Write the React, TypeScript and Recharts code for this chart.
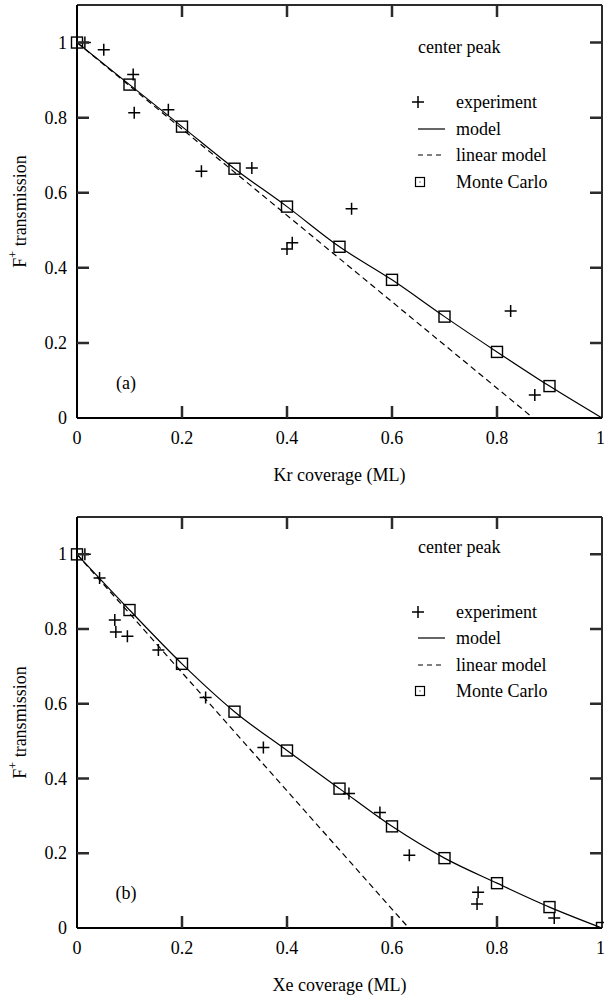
import React from 'react';
import { ScatterChart, Scatter, XAxis, YAxis, Legend, ReferenceLine } from 'recharts';

// coverage grid used by the Monte Carlo points and the model curves
const coverageGrid = [0, 0.1, 0.2, 0.3, 0.4, 0.5, 0.6, 0.7, 0.8, 0.9, 1];
const xTicks = [0, 0.2, 0.4, 0.6, 0.8, 1];
const yTicks = [0, 0.2, 0.4, 0.6, 0.8, 1];
const yMax = 1.1;
const xMax = 1;

// (a) Kr
const krExpX = [0.015, 0.051, 0.107, 0.109, 0.174, 0.237, 0.333, 0.4, 0.41, 0.523, 0.826, 0.872];
const krExpY = [1.0, 0.981, 0.915, 0.813, 0.821, 0.657, 0.666, 0.45, 0.467, 0.557, 0.285, 0.061];
const krMonteCarlo = [1.0, 0.888, 0.776, 0.664, 0.563, 0.456, 0.368, 0.27, 0.176, 0.085];
const krModel = [1.0, 0.888, 0.776, 0.664, 0.563, 0.456, 0.368, 0.27, 0.176, 0.085, 0];
const krLinearX = [0, 0.869];
const krLinearY = [1, 0];

// (b) Xe
const xeExpX = [0.015, 0.043, 0.072, 0.074, 0.096, 0.155, 0.245, 0.355, 0.518, 0.577, 0.633, 0.764, 0.762, 0.909];
const xeExpY = [1.0, 0.937, 0.824, 0.792, 0.781, 0.744, 0.617, 0.483, 0.36, 0.309, 0.195, 0.096, 0.064, 0.027];
const xeMonteCarlo = [1.0, 0.851, 0.707, 0.579, 0.475, 0.373, 0.272, 0.187, 0.12, 0.056, 0.0];
const xeModel = [1.0, 0.851, 0.707, 0.579, 0.475, 0.373, 0.272, 0.187, 0.12, 0.056, 0.0];
const xeLinearX = [0, 0.632];
const xeLinearY = [1, 0];

const FONT = 'Liberation Serif, Times New Roman, Times, DejaVu Serif, serif';
const INK = '#2b2b2b';
const CHART_W = 604;
const RIGHT_MARGIN = 2;
const TICK_LEN = 12;

const zip = (xs: number[], ys: number[]) => ys.map((y, i) => ({ x: xs[i], y }));

const Cross = (props: any) => {
  const { cx, cy } = props;
  return <path d={`M${cx - 6},${cy}H${cx + 6}M${cx},${cy - 6}V${cy + 6}`} stroke="#000" strokeWidth={1.5} fill="none" />;
};

const Square = (props: any) => {
  const { cx, cy } = props;
  return <rect x={cx - 5.5} y={cy - 5.5} width={11} height={11} fill="none" stroke="#000" strokeWidth={1.4} />;
};

const NoDot = () => <g />;

// bottom tick: label below, inward tick marks on bottom and top frame
const makeBottomTick = (plotTop: number) => (props: any) => {
  const { x, y, payload } = props;
  const v = Number(payload.value);
  const inner = v > 0 && v < xMax;
  return (
    <g>
      {inner ? <path d={`M${x},${y}V${y - TICK_LEN}M${x},${plotTop}V${plotTop + TICK_LEN}`} stroke={INK} strokeWidth={2.5} fill="none" /> : null}
      <text
        x={v === xMax ? x + 3 : x}
        y={y + 20}
        textAnchor={v === xMax ? 'end' : 'middle'}
        dominantBaseline="central"
        style={{ fontFamily: FONT, fontSize: 18 }}
        fill="#000"
      >
        {String(payload.value)}
      </text>
    </g>
  );
};

// left tick: label left, inward tick marks on left and right frame
const LeftTick = (props: any) => {
  const { x, y, payload } = props;
  const v = Number(payload.value);
  const plotRight = CHART_W - RIGHT_MARGIN;
  return (
    <g>
      {v > 0 ? <path d={`M${x},${y}H${x + TICK_LEN}M${plotRight},${y}H${plotRight - TICK_LEN}`} stroke={INK} strokeWidth={2.5} fill="none" /> : null}
      <text x={x - 10} y={y} textAnchor="end" dominantBaseline="central" style={{ fontFamily: FONT, fontSize: 18 }} fill="#000">
        {String(payload.value)}
      </text>
    </g>
  );
};

const YLabel = ({ viewBox }: any) => {
  const cx = viewBox.x + 20;
  const cy = viewBox.y + viewBox.height / 2;
  return (
    <text x={cx} y={cy} transform={`rotate(-90 ${cx} ${cy})`} textAnchor="middle" dominantBaseline="central" style={{ fontFamily: FONT, fontSize: 18 }} fill="#000">
      <tspan>F</tspan>
      <tspan fontSize={12} dy={-7}>+</tspan>
      <tspan dy={7}> transmission</tspan>
    </text>
  );
};

const makeXLabel = (text: string) => ({ viewBox }: any) => (
  <text x={viewBox.x + viewBox.width / 2} y={viewBox.y + 57} textAnchor="middle" dominantBaseline="central" style={{ fontFamily: FONT, fontSize: 18 }} fill="#000">
    {text}
  </text>
);

interface LegendPos {
  peakY: number;
  rowsY: number;
  gap: number;
  tagY: number;
}

const PanelLegend = ({ tag, pos }: { tag: string; pos: LegendPos }) => {
  const rows = ['experiment', 'model', 'linear model', 'Monte Carlo'];
  const marker = (i: number) => {
    if (i === 0) return <path d="M4,11H16M10,5V17" stroke="#000" strokeWidth={1.5} />;
    if (i === 1) return <path d="M10,11H37" stroke="#000" strokeWidth={1.2} />;
    if (i === 2) return <path d="M10,11H37" stroke="#000" strokeWidth={1.2} strokeDasharray="5 4" />;
    return (
      <g>
        <rect x={7.5} y={6.5} width={9} height={9} fill="none" stroke="#000" strokeWidth={1.2} />
        <rect x={11.5} y={10.5} width={1} height={1} fill="#000" />
      </g>
    );
  };
  return (
    <div style={{ position: 'relative', width: CHART_W, height: 500, fontFamily: FONT, fontSize: 18, color: '#000' }}>
      <div style={{ position: 'absolute', left: 418, top: pos.peakY - 11, lineHeight: '22px', whiteSpace: 'nowrap' }}>center peak</div>
      {rows.map((r, i) => (
        <div key={r} style={{ position: 'absolute', left: 408, top: pos.rowsY + i * pos.gap - 11, height: 22 }}>
          <svg width={40} height={22} style={{ position: 'absolute', left: 0, top: 0 }}>
            {marker(i)}
          </svg>
          <div style={{ position: 'absolute', left: 48, top: 0, lineHeight: '22px', whiteSpace: 'nowrap' }}>{r}</div>
        </div>
      ))}
      <div style={{ position: 'absolute', left: 126, top: pos.tagY, transform: 'translate(-50%, -50%)', lineHeight: '22px' }}>{tag}</div>
    </div>
  );
};

interface PanelProps {
  height: number;
  top: number;
  bottom: number;
  expX: number[];
  expY: number[];
  mc: number[];
  model: number[];
  linX: number[];
  linY: number[];
  xLabel: string;
  tag: string;
  legend: LegendPos;
}

const Panel = ({ height, top, bottom, expX, expY, mc, model, linX, linY, xLabel, tag, legend }: PanelProps) => (
  <ScatterChart width={CHART_W} height={height} margin={{ top, right: RIGHT_MARGIN, left: 0, bottom: 0 }}>
    <XAxis
      type="number"
      dataKey="x"
      domain={[0, xMax]}
      ticks={xTicks}
      interval={0}
      height={bottom}
      tickSize={0}
      tickMargin={0}
      tickLine={false}
      tick={makeBottomTick(top)}
      axisLine={{ stroke: '#000', strokeWidth: 2 }}
      label={{ content: makeXLabel(xLabel) }}
    />
    <YAxis
      type="number"
      dataKey="y"
      domain={[0, yMax]}
      allowDataOverflow
      ticks={yTicks}
      interval={0}
      width={77}
      tickSize={0}
      tickMargin={0}
      tickLine={false}
      tick={LeftTick}
      axisLine={{ stroke: '#000', strokeWidth: 2 }}
      label={{ content: YLabel }}
    />
    {/* top and right frame */}
    <ReferenceLine y={yMax} stroke={INK} strokeWidth={2} ifOverflow="extendDomain" />
    <ReferenceLine x={xMax} stroke={INK} strokeWidth={2} ifOverflow="extendDomain" />
    <Legend
      layout="vertical"
      align="center"
      verticalAlign="middle"
      wrapperStyle={{ left: 0, top: 0, width: CHART_W, height: height }}
      content={() => <PanelLegend tag={tag} pos={legend} />}
    />
    <Scatter
      name="model"
      data={zip(coverageGrid, model)}
      shape={NoDot}
      line={{ stroke: '#000', strokeWidth: 1.2 }}
      lineJointType="monotoneX"
      isAnimationActive={false}
    />
    <Scatter
      name="linear model"
      data={zip(linX, linY)}
      shape={NoDot}
      line={{ stroke: '#000', strokeWidth: 1.2, strokeDasharray: '6 4' }}
      isAnimationActive={false}
    />
    <Scatter name="Monte Carlo" data={zip(coverageGrid, mc)} shape={Square} isAnimationActive={false} />
    <Scatter name="experiment" data={zip(expX, expY)} shape={Cross} isAnimationActive={false} />
  </ScatterChart>
);

export default function App() {
  return (
    <div style={{ position: 'absolute', left: 0, top: 0, width: CHART_W, height: 998, background: '#fff' }}>
      <Panel
        height={500}
        top={5}
        bottom={82}
        expX={krExpX}
        expY={krExpY}
        mc={krMonteCarlo}
        model={krModel}
        linX={krLinearX}
        linY={krLinearY}
        xLabel="Kr coverage (ML)"
        tag="(a)"
        legend={{ peakY: 47, rowsY: 102, gap: 26.7, tagY: 383 }}
      />
      <Panel
        height={498}
        top={17}
        bottom={70}
        expX={xeExpX}
        expY={xeExpY}
        mc={xeMonteCarlo}
        model={xeModel}
        linX={xeLinearX}
        linY={xeLinearY}
        xLabel="Xe coverage (ML)"
        tag="(b)"
        legend={{ peakY: 47, rowsY: 112, gap: 26.3, tagY: 393 }}
      />
    </div>
  );
}
